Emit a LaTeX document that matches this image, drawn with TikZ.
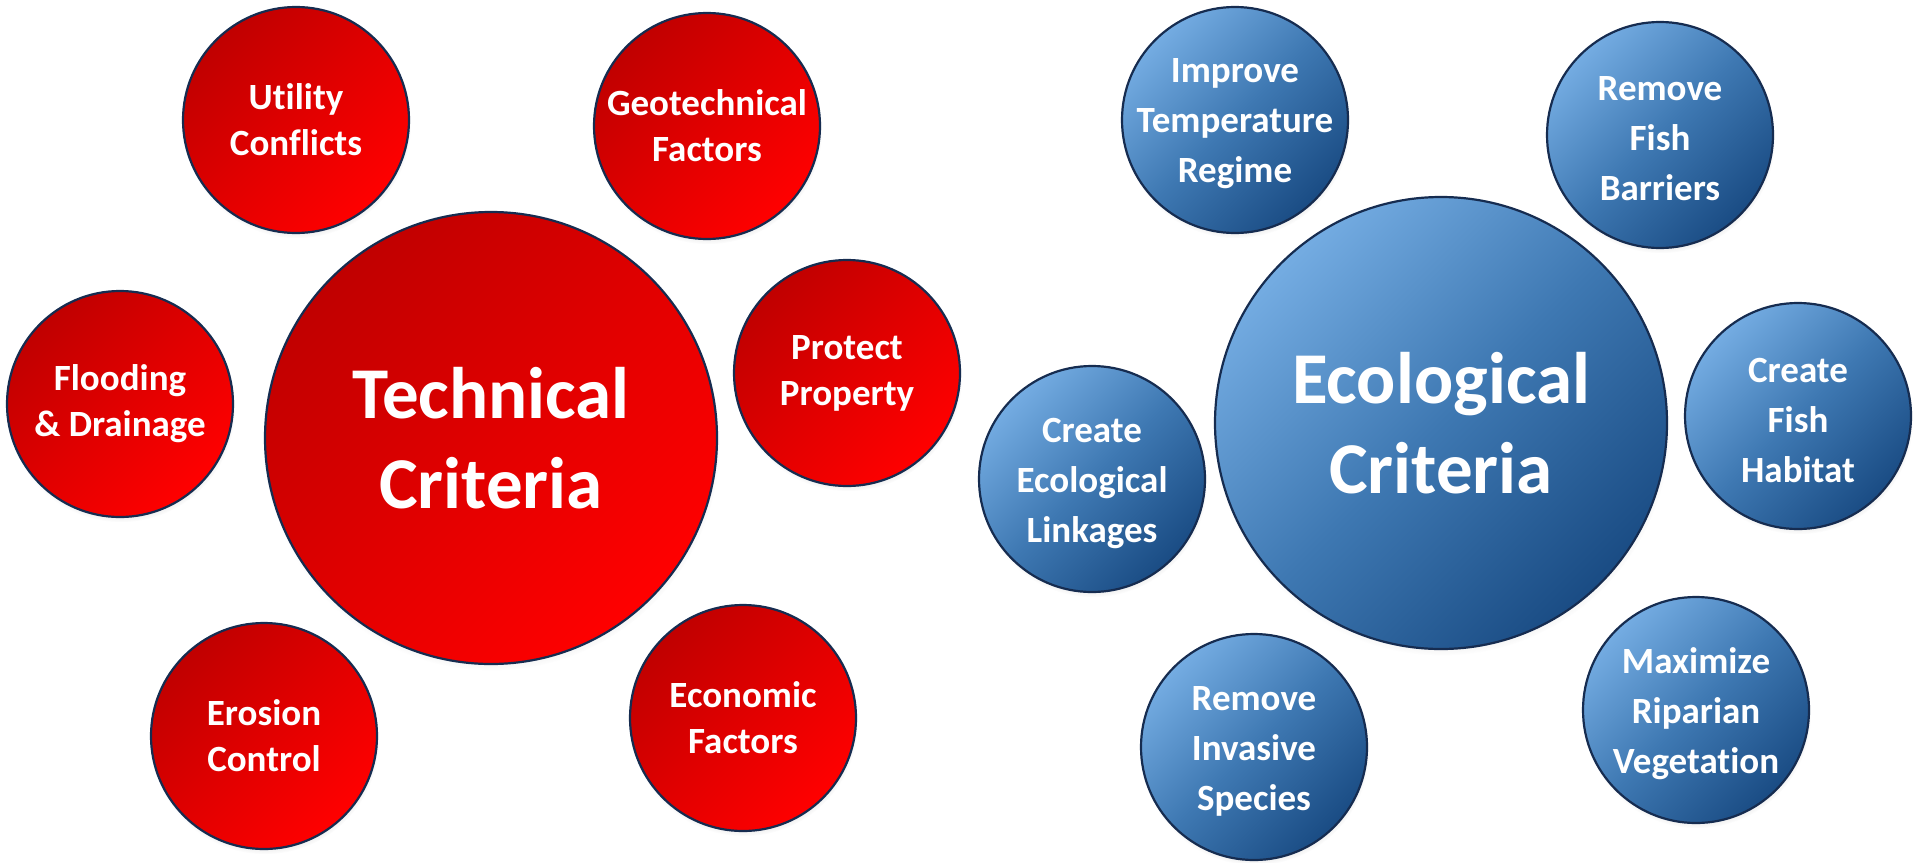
\documentclass[tikz,border=0pt]{standalone}
\usepackage{fontspec}
\setmainfont{Carlito}[Ligatures={NoCommon}]
\usetikzlibrary{shadows}
\definecolor{redDark}{RGB}{192,0,0}
\definecolor{redLight}{RGB}{255,0,0}
\definecolor{blueLight}{RGB}{116,172,226}
\definecolor{blueDark}{RGB}{26,76,132}
\definecolor{rim}{RGB}{22,44,80}
\tikzset{
  bub/.style={circle, inner sep=0pt, minimum size=226pt, line width=2.2pt, draw=rim,
    circular drop shadow={shadow xshift=1pt, shadow yshift=-4pt, shadow scale=1.01, opacity=0.35}},
  bigbub/.style={bub, minimum size=452pt},
  redbub/.style={top color=redDark, bottom color=redLight, middle color=red!88!black, shading angle=45},
  bluebub/.style={top color=blueLight, bottom color=blueDark, middle color={rgb,255:red,62;green,120;blue,178}, shading angle=45},
  smalltxt/.style={text=white, align=center, font=\fontsize{37}{46}\selectfont\bfseries, inner sep=0pt},
  threetxt/.style={smalltxt, font=\fontsize{37}{50}\selectfont\bfseries, yshift=-4pt},
  bigtxt/.style={text=white, align=center, font=\fontsize{73}{90}\selectfont\bfseries, inner sep=0pt}
}
\begin{document}
\begin{tikzpicture}[x=1pt,y=-1pt]
\useasboundingbox (0,0) rectangle (1913,862);
% technical
\node[bub,redbub] (util) at (296,120) {};
\node[smalltxt] (utilT) at (util) {Utility\\Conflicts};
\node[bub,redbub] (geo) at (707,126) {};
\node[smalltxt] (geoT) at (geo) {Geotechnical\\Factors};
\node[bub,redbub] (flood) at (120,404) {};
\node[smalltxt] (floodT) at (flood) {Flooding\\\& Drainage};
\node[bub,redbub] (prot) at (847,373) {};
\node[smalltxt] (protT) at (prot) {Protect\\Property};
\node[bub,redbub] (eros) at (264,736) {};
\node[smalltxt] (erosT) at (eros) {Erosion\\Control};
\node[bub,redbub] (econ) at (743,718) {};
\node[smalltxt] (econT) at (econ) {Economic\\Factors};
\node[bigbub,redbub] (tech) at (491,438) {};
\node[bigtxt] (techT) at (tech) {Technical\\Criteria};
% ecological
\node[bub,bluebub] (temp) at (1235,120) {};
\node[threetxt] (tempT) at (temp) {Improve\\Temperature\\Regime};
\node[bub,bluebub] (barr) at (1660,135) {};
\node[threetxt] (barrT) at (barr) {Remove\\Fish\\Barriers};
\node[bub,bluebub] (hab) at (1798,416) {};
\node[threetxt] (habT) at (hab) {Create\\Fish\\Habitat};
\node[bub,bluebub] (link) at (1092,479) {};
\node[threetxt] (linkT) at (link) {Create\\Ecological\\Linkages};
\node[bub,bluebub] (inv) at (1254,747) {};
\node[threetxt] (invT) at (inv) {Remove\\Invasive\\Species};
\node[bub,bluebub] (rip) at (1696,710) {};
\node[threetxt] (ripT) at (rip) {Maximize\\Riparian\\Vegetation};
\node[bigbub,bluebub] (eco) at (1441,423) {};
\node[bigtxt] (ecoT) at (eco) {Ecological\\Criteria};
\end{tikzpicture}
\end{document}
